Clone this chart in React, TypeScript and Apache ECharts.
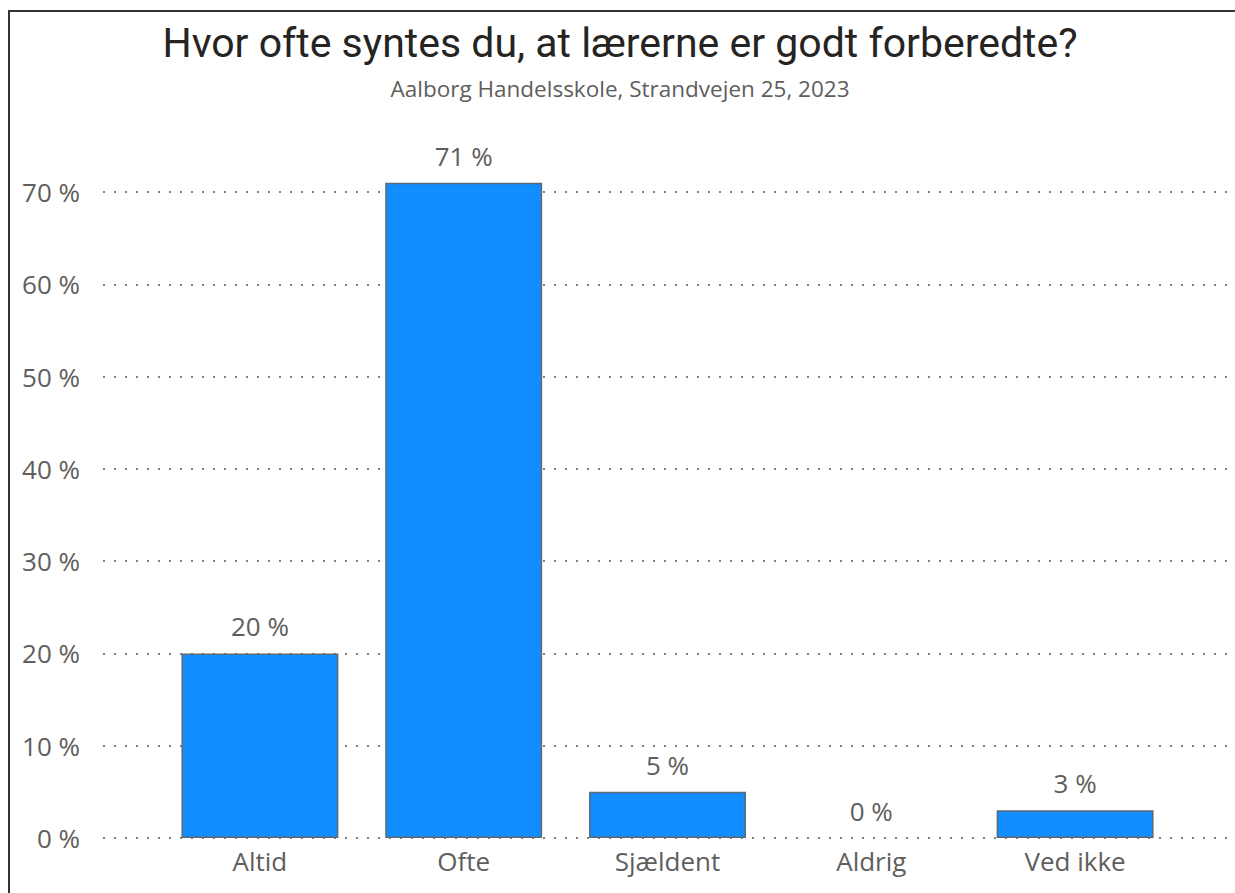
import React, { useEffect, useRef } from "react";
import * as echarts from "echarts";

const categories = ["Altid", "Ofte", "Sjældent", "Aldrig", "Ved ikke"];
const values = [20, 71, 5, 0, 3];
const titleText = "Hvor ofte syntes du, at lærerne er godt forberedte?";
const subtitleText = "Aalborg Handelsskole, Strandvejen 25, 2023";

export default function App() {
  const ref = useRef<HTMLDivElement>(null);
  useEffect(() => {
    const chart = echarts.init(ref.current!, null, { renderer: "svg" });
    const labelFont = "'Open Sans', 'Noto Sans', sans-serif";
    chart.setOption({
      animation: false,
      backgroundColor: "#ffffff",
      title: {
        text: titleText,
        subtext: subtitleText,
        left: 615,
        textAlign: "center",
        top: 17,
        itemGap: 14,
        textStyle: { fontFamily: "Roboto", fontWeight: 400, fontSize: 41, color: "#252423" },
        subtextStyle: { fontFamily: labelFont, fontSize: 22.5, color: "#605e5c" },
      },
      graphic: [
        {
          type: "polyline",
          shape: { points: [[9, 900], [9, 11], [1240, 11]] },
          style: { stroke: "#333333", lineWidth: 2, fill: "none" },
          z: 100,
        },
      ],
      grid: [
        { left: 103, right: 0, top: 192, bottom: 55 },
        { left: 158, right: 58, top: 192, bottom: 55 },
      ],
      xAxis: [
        { type: "value", gridIndex: 0, show: false, min: 0, max: 1 },
        {
          type: "category",
          gridIndex: 1,
          data: categories,
          axisLine: { show: false },
          axisTick: { show: false },
          axisLabel: { fontFamily: labelFont, fontSize: 26, color: "#605e5c", margin: 10 },
        },
      ],
      yAxis: [
        {
          type: "value",
          gridIndex: 0,
          min: 0,
          max: 70,
          interval: 10,
          axisLine: { show: false },
          axisTick: { show: false },
          axisLabel: {
            fontFamily: labelFont,
            fontSize: 26,
            color: "#605e5c",
            margin: 23,
            formatter: (v: number) => `${v} %`,
          },
          splitLine: { lineStyle: { color: "#808080", width: 2, type: [2, 9] } },
        },
        { type: "value", gridIndex: 1, min: 0, max: 70, interval: 10, show: false, splitLine: { show: false } },
      ],
      series: [
        {
          type: "bar",
          xAxisIndex: 1,
          yAxisIndex: 1,
          data: values.map((v) => (v === 0 ? { value: v, itemStyle: { borderWidth: 0 } } : v)),
          clip: false,
          barCategoryGap: "23%",
          itemStyle: { color: "#118DFF", borderColor: "#5b6a74", borderWidth: 1.5 },
          label: {
            show: true,
            position: "top",
            distance: 14,
            fontFamily: labelFont,
            fontSize: 26,
            color: "#605e5c",
            formatter: (p: any) => `${p.value} %`,
          },
        },
      ],
    });
    return () => chart.dispose();
  }, []);
  return <div ref={ref} style={{ position: "fixed", left: 0, top: 0, width: 1235, height: 893 }} />;
}
